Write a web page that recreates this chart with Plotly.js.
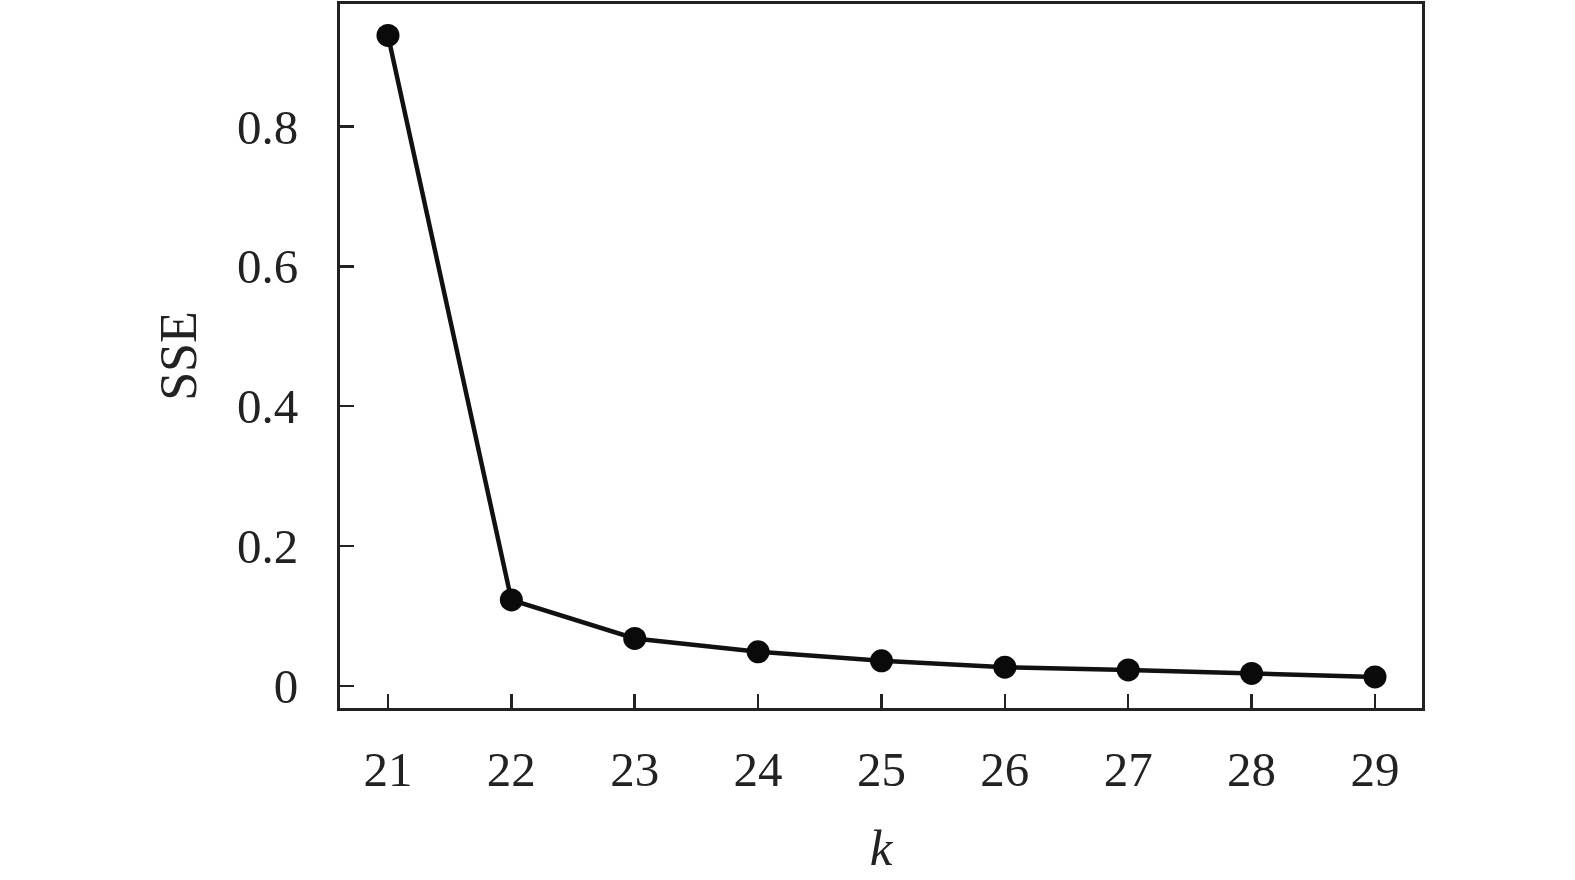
<!DOCTYPE html>
<html>
<head>
<meta charset="utf-8">
<script src="https://cdn.plot.ly/plotly-3.0.1.min.js"></script>
<style>html,body{margin:0;padding:0;background:#fff;}#chart{width:1575px;height:880px;}</style>
</head>
<body>
<div id="chart"></div>
<script>
const kValues = [21, 22, 23, 24, 25, 26, 27, 28, 29];
const sseValues = [0.930, 0.123, 0.068, 0.049, 0.036, 0.027, 0.023, 0.018, 0.013];
const xTickVals = [21, 22, 23, 24, 25, 26, 27, 28, 29];
const yTickVals = [0, 0.2, 0.4, 0.6, 0.8];
const yTickText = ['0', '0.2', '0.4', '0.6', '0.8'];

const fontFamily = '"Liberation Serif", "Times New Roman", serif';

const trace = {
  x: kValues,
  y: sseValues,
  type: 'scatter',
  mode: 'lines+markers',
  line: {color: '#111', width: 4.5},
  marker: {color: '#0a0a0a', size: 23},
  showlegend: false,
  cliponaxis: false
};

const layout = {
  width: 1575,
  height: 880,
  margin: {l: 340, r: 153, t: 4, b: 172, pad: 0},
  paper_bgcolor: '#fff',
  plot_bgcolor: '#fff',
  font: {family: fontFamily, color: '#222', size: 49},
  xaxis: {
    range: [20.611, 29.381],
    tickvals: xTickVals,
    ticktext: xTickVals.map(String),
    ticks: 'inside',
    ticklen: 14,
    tickwidth: 2.5,
    tickcolor: '#222',
    showline: true,
    linecolor: '#222',
    linewidth: 3,
    mirror: true,
    showgrid: false,
    zeroline: false,
    ticklabelstandoff: 16,
    tickfont: {family: fontFamily, size: 49, color: '#222'},
    title: {text: '<i>k</i>', font: {family: fontFamily, size: 51, color: '#222'}, standoff: 34},
    automargin: false
  },
  yaxis: {
    range: [-0.0314, 0.975],
    tickvals: yTickVals,
    ticktext: yTickText,
    ticks: 'inside',
    ticklen: 14,
    tickwidth: 2.5,
    tickcolor: '#222',
    showline: true,
    linecolor: '#222',
    linewidth: 3,
    mirror: true,
    showgrid: false,
    zeroline: false,
    ticklabelstandoff: 29,
    tickfont: {family: fontFamily, size: 49, color: '#222'},
    title: {text: 'SSE', font: {family: fontFamily, size: 52, color: '#222'}, standoff: 24},
    automargin: false
  }
};

Plotly.newPlot('chart', [trace], layout, {displayModeBar: false, staticPlot: true});
</script>
</body>
</html>
